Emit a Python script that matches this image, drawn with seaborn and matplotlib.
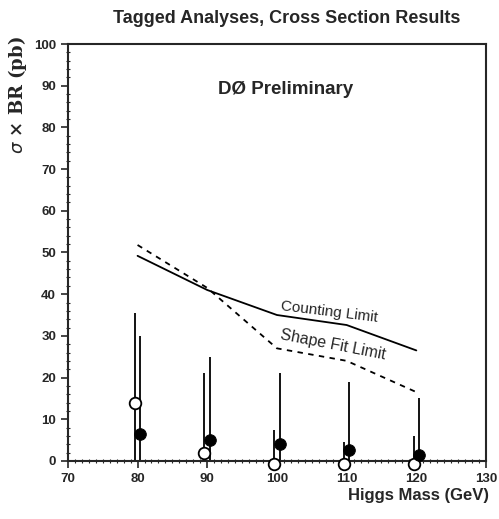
import numpy as np
import pandas as pd
import matplotlib
matplotlib.use("Agg")
import matplotlib.pyplot as plt
import seaborn as sns
from matplotlib.ticker import MultipleLocator

# limit curves
mass = [80, 90, 100, 110, 120]
counting_limit = [49.2, 41.0, 35.0, 32.6, 26.5]
shape_limit = [51.8, 41.5, 27.0, 24.0, 16.5]

# measured points (open = shape fit, filled = counting)
open_x = [79.6, 89.6, 99.6, 109.6, 119.6]
open_y = [14.0, 2.0, -0.8, -0.8, -0.8]
open_hi = [35.5, 21.0, 7.5, 4.5, 6.0]
filled_x = [80.4, 90.4, 100.4, 110.4, 120.4]
filled_y = [6.5, 5.0, 4.0, 2.5, 1.5]
filled_hi = [30.0, 25.0, 21.0, 19.0, 15.0]

sns.set_style("ticks")
plt.rcParams['font.family'] = ['Liberation Sans', 'DejaVu Sans']

lim_df = pd.DataFrame({'mass': mass + mass,
                       'limit': counting_limit + shape_limit,
                       'kind': ['Counting'] * 5 + ['Shape'] * 5})

fig = plt.figure(figsize=(4.99, 5.19), dpi=100)
ax = fig.add_axes([0.136, 0.112, 0.838, 0.803])

sns.lineplot(data=lim_df, x='mass', y='limit', style='kind',
             dashes={'Counting': '', 'Shape': (3, 3)},
             color='black', linewidth=1.3, legend=False, ax=ax)

ax.vlines(open_x, 0, open_hi, color='black', linewidth=1.3)
ax.vlines(filled_x, 0, filled_hi, color='black', linewidth=1.3)
sns.scatterplot(x=open_x, y=open_y, marker='o', s=70, facecolor='white',
                edgecolor='black', linewidth=1.3, ax=ax, clip_on=False, zorder=5)
sns.scatterplot(x=filled_x, y=filled_y, marker='o', s=70, color='black',
                edgecolor='black', ax=ax, clip_on=False, zorder=5)

ax.set_xlim(70, 130)
ax.set_ylim(0, 100)
ax.set_xticks([70, 80, 90, 100, 110, 120, 130])
ax.set_yticks(range(0, 101, 10))
ax.xaxis.set_minor_locator(MultipleLocator(1))
ax.yaxis.set_minor_locator(MultipleLocator(2))
ax.tick_params(which='major', direction='out', length=5, width=1.2,
               labelsize=9.5)
ax.tick_params(which='minor', direction='inout', length=3, width=0.8)
for lab in ax.get_xticklabels() + ax.get_yticklabels():
    lab.set_fontweight('bold')
for sp in ax.spines.values():
    sp.set_visible(True)
    sp.set_linewidth(1.5)

ax.set_xlabel('')
ax.set_ylabel('')
fig.text(0.98, 0.03, 'Higgs Mass (GeV)', ha='right', va='bottom',
         fontsize=12, fontweight='bold')
fig.text(0.035, 0.93, r'$\sigma$ × BR (pb)', rotation=90, ha='center',
         va='top', fontsize=13, fontweight='bold', family='DejaVu Serif')
fig.text(0.575, 0.965, 'Tagged Analyses, Cross Section Results',
         ha='center', va='center', fontsize=13, fontweight='bold')
ax.text(101.3, 89, 'DØ Preliminary', ha='center', va='center',
        fontsize=13.5, fontweight='bold')
ax.text(107.5, 35.7, 'Counting Limit', ha='center', va='center',
        fontsize=11, rotation=-7)
ax.text(108, 27.8, 'Shape Fit Limit', ha='center', va='center',
        fontsize=11.5, rotation=-11)

fig.savefig('out.png', dpi=100)
